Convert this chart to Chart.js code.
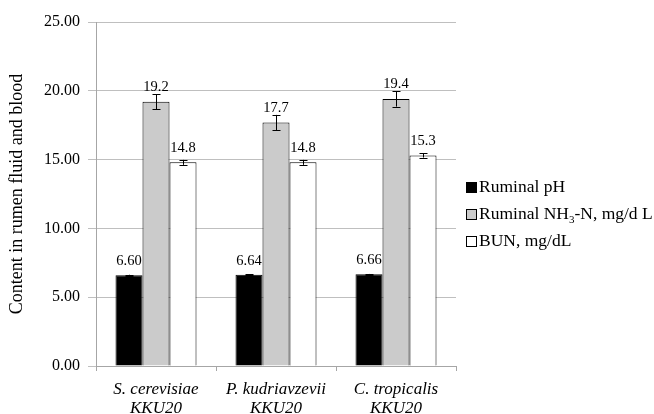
<!DOCTYPE html>
<html><head><meta charset="utf-8">
<script src="https://cdn.jsdelivr.net/npm/chart.js@4/dist/chart.umd.min.js"></script>
<style>html,body{margin:0;padding:0;background:#fff}#wrap{width:654px;height:414px}</style>
</head><body><div id="wrap"><canvas id="c" width="654" height="414"></canvas></div>
<script>
// Yeast strains on the category axis (species name + strain code)
const strains = [['S. cerevisiae', 'KKU20'], ['P. kudriavzevii', 'KKU20'], ['C. tropicalis', 'KKU20']];
// Means per strain
const ruminalPH = [6.60, 6.64, 6.66];
const ruminalNH3N = [19.2, 17.7, 19.4];
const bun = [14.8, 14.8, 15.3];
// Standard errors per strain
const phErr = [0.03, 0.03, 0.03];
const nh3Err = [0.55, 0.55, 0.55];
const bunErr = [0.18, 0.18, 0.15];
// Value-axis range
const yMin = 0, yMax = 25, yStep = 5;

const SERIF = '"Liberation Serif", "Times New Roman", serif';

// Legend entries; NH3 drawn with a subscript 3
const legendParts = [
  [{ t: 'Ruminal pH' }],
  [{ t: 'Ruminal NH' }, { t: '3', sub: true }, { t: '-N, mg/d L' }],
  [{ t: 'BUN, mg/dL' }]
];

const datasets = [
  { label: 'Ruminal pH', data: ruminalPH, err: phErr, digits: 2, backgroundColor: '#000000', borderColor: '#000000', borderWidth: 1 },
  { label: 'Ruminal NH3-N, mg/d L', data: ruminalNH3N, err: nh3Err, digits: 1, backgroundColor: '#cbcbcb', borderColor: '#000000', borderWidth: 1 },
  { label: 'BUN, mg/dL', data: bun, err: bunErr, digits: 1, backgroundColor: '#ffffff', borderColor: '#000000', borderWidth: 1 }
];

// Error bars, plus value labels placed a fixed distance above each bar
const errorBarPlugin = {
  id: 'errorBars',
  afterDatasetsDraw(chart) {
    const ctx = chart.ctx;
    const y = chart.scales.y;
    ctx.save();
    chart.data.datasets.forEach((ds, di) => {
      const meta = chart.getDatasetMeta(di);
      meta.data.forEach((bar, i) => {
        const v = ds.data[i], e = ds.err[i];
        const yt = y.getPixelForValue(v + e);
        const yb = y.getPixelForValue(v - e);
        const x = bar.x;
        ctx.strokeStyle = '#000';
        ctx.lineWidth = 1;
        ctx.beginPath();
        ctx.moveTo(x + 0.5, yt); ctx.lineTo(x + 0.5, yb);
        ctx.moveTo(x - 3.5, Math.round(yt) + 0.5); ctx.lineTo(x + 4.5, Math.round(yt) + 0.5);
        ctx.moveTo(x - 3.5, Math.round(yb) + 0.5); ctx.lineTo(x + 4.5, Math.round(yb) + 0.5);
        ctx.stroke();
        ctx.fillStyle = '#000';
        ctx.font = '14.5px ' + SERIF;
        ctx.textAlign = 'center';
        ctx.textBaseline = 'alphabetic';
        ctx.fillText(v.toFixed(ds.digits), x, Math.min(y.getPixelForValue(v) - 10, yt - 3));
      });
    });
    ctx.restore();
  }
};

// Legend at the right of the plot, with subscript support
const sideLegendPlugin = {
  id: 'sideLegend',
  afterDraw(chart) {
    const ctx = chart.ctx;
    const x0 = chart.chartArea.right + 10;
    const ys = [187, 214, 241];
    ctx.save();
    chart.data.datasets.forEach((ds, i) => {
      const cy = ys[i];
      ctx.fillStyle = ds.backgroundColor;
      ctx.fillRect(x0 + 0.5, cy - 4.5, 10, 10);
      ctx.strokeStyle = '#000';
      ctx.lineWidth = 1;
      ctx.strokeRect(x0 + 0.5, cy - 4.5, 10, 10);
      let x = x0 + 13;
      ctx.fillStyle = '#000';
      ctx.textBaseline = 'middle';
      ctx.textAlign = 'left';
      legendParts[i].forEach(p => {
        if (p.sub) {
          ctx.font = '11px ' + SERIF;
          ctx.fillText(p.t, x, cy + 6);
        } else {
          ctx.font = '17.5px ' + SERIF;
          ctx.fillText(p.t, x, cy);
        }
        x += ctx.measureText(p.t).width;
      });
    });
    ctx.restore();
  }
};

new Chart(document.getElementById('c'), {
  type: 'bar',
  data: { labels: strains, datasets },
  plugins: [errorBarPlugin, sideLegendPlugin],
  options: {
    responsive: false,
    devicePixelRatio: 1,
    animation: false,
    layout: { padding: { left: 0, right: 198, top: 22, bottom: 0 } },
    plugins: { legend: { display: false }, tooltip: { enabled: false } },
    datasets: { bar: { categoryPercentage: 0.675, barPercentage: 1 } },
    scales: {
      x: {
        afterFit(s) { s.height = 48; },
        grid: { display: true, drawOnChartArea: false, offset: true, tickLength: 5, color: '#a6a6a6' },
        border: { color: '#a6a6a6', width: 1 },
        ticks: { color: '#000', font: { family: SERIF, size: 17, style: 'italic', lineHeight: 1.12 }, padding: 9, maxRotation: 0 }
      },
      y: {
        min: yMin, max: yMax,
        afterFit(s) { s.width = 96; },
        ticks: { stepSize: yStep, color: '#000', font: { family: SERIF, size: 16 }, padding: 8, callback: v => v.toFixed(2) },
        grid: { color: '#bfbfbf', tickLength: 8 },
        border: { color: '#a6a6a6', width: 1 },
        title: { display: true, text: 'Content in rumen fluid and blood', color: '#000', font: { family: SERIF, size: 18 }, padding: { top: 6, bottom: 4 } }
      }
    }
  }
});
</script>
</body></html>
